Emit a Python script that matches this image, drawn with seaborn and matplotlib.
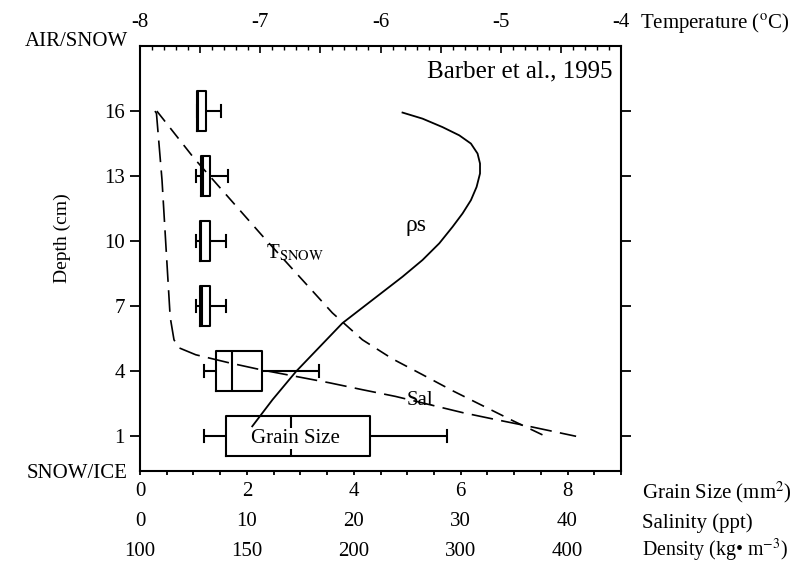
import numpy as np
import pandas as pd
import matplotlib
matplotlib.use("Agg")
import matplotlib.pyplot as plt
from matplotlib.ticker import MultipleLocator, FuncFormatter
import seaborn as sns

# ---------------- data ----------------
depth_ticks = [1, 4, 7, 10, 13, 16]
grain_ticks = [0, 2, 4, 6, 8]
salinity_ticks = [0, 10, 20, 30, 40]
density_ticks = [100, 150, 200, 300, 400]
temp_ticks = [-8, -7, -6, -5, -4]

# grain size summaries per depth (min, q1, median, q3, max), mm^2
box_depths = [16, 13, 10, 7, 4, 1]
grain_min = [1.06, 1.04, 1.04, 1.04, 1.20, 1.20]
grain_q1 = [1.06, 1.14, 1.13, 1.13, 1.43, 1.60]
grain_med = [1.08, 1.18, 1.15, 1.16, 1.72, 2.82]
grain_q3 = [1.23, 1.31, 1.31, 1.31, 2.28, 4.31]
grain_max = [1.52, 1.65, 1.60, 1.60, 3.34, 5.74]

# snow temperature profile (deg C)
temp_depth = [16.0, 13.82, 10.23, 6.69, 5.45, 4.57, 3.84, 3.10, 2.41, 1.72, 0.98]
temp_vals = [-7.86, -7.55, -6.98, -6.40, -6.15, -5.90, -5.65, -5.40, -5.15, -4.90, -4.62]

# salinity profile (ppt)
sal_depth = [16.0, 15.89, 12.81, 9.74, 6.69, 6.36, 5.45, 5.08, 4.76, 4.39, 4.06, 3.76,
             3.47, 3.15, 2.84, 2.46, 2.09, 1.77, 1.46, 1.0]
sal_vals = [1.40, 1.54, 2.06, 2.43, 2.80, 2.87, 3.18, 3.65, 5.22, 8.33, 11.4, 14.6,
            17.7, 20.8, 23.9, 27.1, 30.2, 33.3, 36.4, 40.8]

# snow density profile (kg m^-3)
dens_depth = [15.93, 15.65, 15.26, 14.88, 14.50, 14.04, 13.58, 13.12, 12.50, 11.89,
              11.28, 10.66, 9.90, 9.13, 8.36, 6.22, 3.99, 2.69, 1.46]
dens_vals = [245.6, 264.3, 283.0, 298.7, 309.6, 315.8, 318.1, 318.1, 314.9, 309.6,
             301.8, 292.4, 280.0, 264.3, 245.6, 194.7, 173.0, 162.0, 152.5]

# ---------------- style ----------------
plt.rcParams['font.family'] = ['Liberation Serif', 'DejaVu Serif']
plt.rcParams['mathtext.fontset'] = 'stix'
FS = 15

fig = plt.figure(figsize=(7.98, 5.64), dpi=100)
ax = fig.add_axes([140 / 798, 1 - 471 / 564, 481 / 798, 425 / 564])

# ---------------- box plots (grain size) ----------------
box_df = pd.DataFrame({
    'depth': np.repeat(box_depths, 5),
    'grain': np.column_stack([grain_min, grain_q1, grain_med, grain_q3, grain_max]).ravel(),
})
box_kws = dict(data=box_df, x='grain', y='depth', orient='y', native_scale=True,
               whis=(0, 100), width=0.62, fill=False, color='black', linewidth=1.5,
               ax=ax)
try:
    sns.boxplot(capwidths=0.55, **box_kws)
except TypeError:
    for ln in list(ax.lines):
        ln.remove()
    sns.boxplot(**box_kws)

ax.set_xlim(0, 9)
ax.set_ylim(-0.6, 19)
ax.set_yticks(depth_ticks)
ax.set_yticklabels([str(d) for d in depth_ticks])
ax.set_xticks(grain_ticks)
ax.set_xticklabels([str(g) for g in grain_ticks])
ax.xaxis.set_minor_locator(MultipleLocator(0.5))
ax.tick_params(axis='y', which='major', direction='out', length=7, width=1.3,
               left=True, right=True, labelleft=True, labelright=False,
               pad=4, labelsize=FS)
ax.tick_params(axis='x', which='both', direction='out', length=3, width=1.3,
               bottom=True, top=False, labelsize=FS, pad=5)
for s in ax.spines.values():
    s.set_linewidth(1.5)

ax.set_xlabel('Grain Size (mm$^2$)', fontsize=FS, ha='left', va='center')
ax.xaxis.set_label_coords(1.044, -0.049)
ax.set_ylabel('Depth (cm)', fontsize=14, va='center')
ax.yaxis.set_label_coords(-0.162, 0.548)

# ---------------- temperature (top axis) ----------------
ax_t = ax.twiny()
sns.lineplot(x=temp_vals, y=temp_depth, sort=False, estimator=None, ax=ax_t,
             color='black', linewidth=1.2, linestyle=(0, (8, 5)))
ax_t.set_xlim(temp_ticks[0], temp_ticks[-1])
ax_t.xaxis.set_major_locator(MultipleLocator(0.5))
ax_t.xaxis.set_minor_locator(MultipleLocator(0.1))
ax_t.xaxis.set_major_formatter(FuncFormatter(
    lambda v, p: f'{int(round(v))}' if abs(v - round(v)) < 1e-6 else ''))
ax_t.tick_params(axis='x', which='major', direction='in', length=5, width=1.2,
                 top=True, bottom=False, labelsize=FS, pad=10)
ax_t.tick_params(axis='x', which='minor', direction='in', length=3, width=1.0,
                 top=True, bottom=False)
for s in ax_t.spines.values():
    s.set_visible(False)
ax_t.set_xlabel('Temperature ($^{\\rm o}$C)', fontsize=FS, ha='left', va='center')
ax_t.xaxis.set_label_coords(1.04, 1.053)

# ---------------- salinity ----------------
ax_s = ax.twiny()
sns.lineplot(x=sal_vals, y=sal_depth, sort=False, estimator=None, ax=ax_s,
             color='black', linewidth=1.2, linestyle=(0, (13, 5)))
ax_s.set_xlim(0, 45)
ax_s.set_xticks(salinity_ticks)
ax_s.set_xticklabels([str(v) for v in salinity_ticks])
ax_s.xaxis.set_ticks_position('bottom')
ax_s.xaxis.set_label_position('bottom')
ax_s.spines['bottom'].set_position(('outward', 22.5))
for s in ax_s.spines.values():
    s.set_visible(False)
ax_s.tick_params(axis='x', length=0, labelsize=FS, pad=7)
ax_s.set_xlabel('Salinity (ppt)', fontsize=FS, ha='left', va='center')
ax_s.xaxis.set_label_coords(1.044, -0.122)

# ---------------- density ----------------
def _extrap(v, xp, fp):
    v = np.asarray(v, dtype=float)
    out = np.interp(v, xp, fp)
    s_hi = (fp[-1] - fp[-2]) / (xp[-1] - xp[-2])
    s_lo = (fp[1] - fp[0]) / (xp[1] - xp[0])
    out = np.where(v > xp[-1], fp[-1] + (v - xp[-1]) * s_hi, out)
    out = np.where(v < xp[0], fp[0] + (v - xp[0]) * s_lo, out)
    return out

def dens_fwd(v):
    return _extrap(v, density_ticks, grain_ticks)

def dens_inv(v):
    return _extrap(v, grain_ticks, density_ticks)

ax_d = ax.twiny()
ax_d.set_xscale('function', functions=(dens_fwd, dens_inv))
sns.lineplot(x=dens_vals, y=dens_depth, sort=False, estimator=None, ax=ax_d,
             color='black', linewidth=1.3)
ax_d.set_xlim(float(dens_inv(0)), float(dens_inv(9)))
ax_d.set_xticks(density_ticks)
ax_d.set_xticklabels([str(v) for v in density_ticks])
ax_d.xaxis.set_minor_locator(plt.NullLocator())
ax_d.xaxis.set_ticks_position('bottom')
ax_d.xaxis.set_label_position('bottom')
ax_d.spines['bottom'].set_position(('outward', 44))
for s in ax_d.spines.values():
    s.set_visible(False)
ax_d.tick_params(axis='x', length=0, labelsize=FS, pad=7)
ax_d.set_xlabel('Density (kg\u2022 m$^{-3}$)', fontsize=14.3, ha='left', va='center')
ax_d.xaxis.set_label_coords(1.044, -0.188)

ax.set_ylim(-0.6, 19)

# ---------------- annotations ----------------
ax.text(-0.025, 1.01, 'AIR/SNOW', transform=ax.transAxes, ha='right',
        va='center', fontsize=FS)
ax.text(-0.025, -0.007, 'SNOW/ICE', transform=ax.transAxes, ha='right',
        va='center', fontsize=FS)
ax.text(0.983, 0.925, 'Barber et al., 1995', transform=ax.transAxes,
        ha='right', va='baseline', fontsize=18)
ax.text(5.17, 10.72, '\u03c1s', ha='center', va='center', fontsize=17, zorder=6)
ax.text(2.35, 9.45, 'T$_{\\rm SNOW}$', ha='left', va='center', fontsize=15, zorder=6)
ax.text(5.24, 2.65, 'Sal', ha='center', va='center', fontsize=15, zorder=6)
ax.text(2.9, 0.9, 'Grain Size', ha='center', va='center', fontsize=FS, zorder=6,
        bbox=dict(facecolor='white', edgecolor='none', pad=1))

fig.savefig('out.png', dpi=100)
